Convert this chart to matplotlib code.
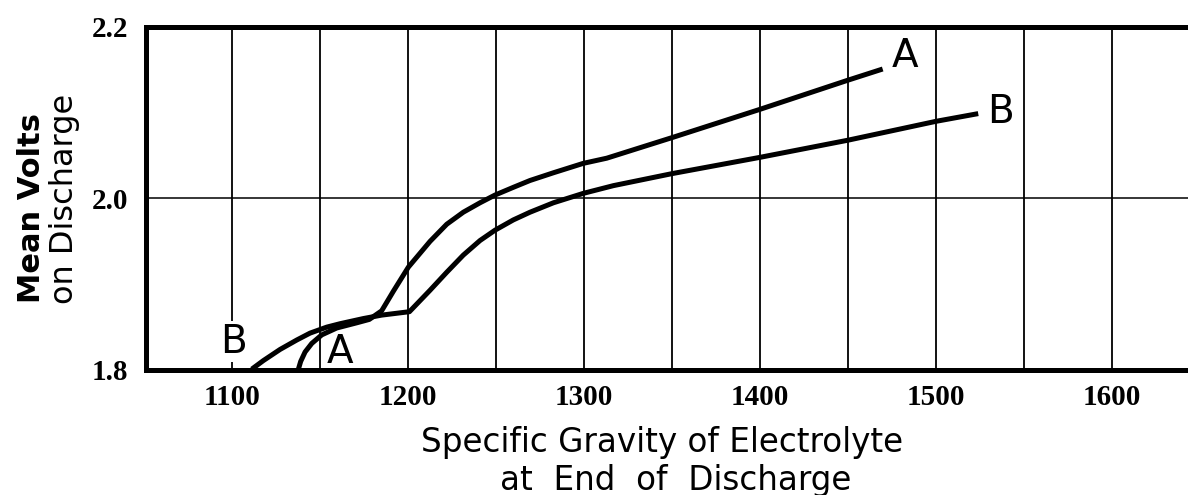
import matplotlib
matplotlib.use("Agg")
import matplotlib.pyplot as plt

# Specific gravity of electrolyte at end of discharge vs. mean volts on discharge
curve_a_sg = [1137.7, 1139.0, 1141.5, 1145.3, 1151.0, 1159.5, 1170.8, 1178.0, 1185.0,
              1191.7, 1200.2, 1212.5, 1222.0, 1231.4, 1240.9, 1249.4, 1259.8, 1269.3,
              1282.6, 1299.6, 1312.9, 1350.0, 1400.0, 1450.0, 1469.7]
curve_a_volts = [1.801, 1.810, 1.821, 1.831, 1.841, 1.849, 1.855, 1.859, 1.869,
                 1.892, 1.920, 1.950, 1.970, 1.984, 1.995, 2.004, 2.013, 2.021,
                 2.030, 2.041, 2.047, 2.071, 2.104, 2.138, 2.151]

curve_b_sg = [1111.2, 1117.8, 1127.3, 1136.8, 1144.3, 1153.8, 1161.4, 1174.6, 1185.0,
              1200.8, 1212.5, 1222.0, 1231.4, 1240.9, 1249.4, 1259.8, 1269.3, 1282.6,
              1299.6, 1316.7, 1350.0, 1400.0, 1450.0, 1500.0, 1524.0]
curve_b_volts = [1.801, 1.811, 1.824, 1.835, 1.843, 1.850, 1.854, 1.860, 1.864,
                 1.868, 1.893, 1.914, 1.934, 1.951, 1.963, 1.975, 1.984, 1.995,
                 2.006, 2.015, 2.029, 2.048, 2.068, 2.090, 2.099]

x_ticks = [1100, 1200, 1300, 1400, 1500, 1600]
x_grid = [1100, 1150, 1200, 1250, 1300, 1350, 1400, 1450, 1500, 1550, 1600]
y_ticks = [1.8, 2.0, 2.2]
y_tick_labels = ["1.8", "2.0", "2.2"]

W, H = 1188, 495
fig = plt.figure(figsize=(W / 100, H / 100), dpi=100)
ax = fig.add_axes([146 / W, (H - 370) / H, 1 - 146 / W, 343 / H])
ax.set_xlim(1051.1, 1643.2)
ax.set_ylim(1.8, 2.2)

# grid
for gx in x_grid:
    ax.axvline(gx, color="black", lw=1.3, zorder=1)
ax.axhline(2.0, color="black", lw=1.1, zorder=1)

# curves
line_kw = dict(color="black", lw=3.6, solid_capstyle="butt",
               solid_joinstyle="round", zorder=3)
ax.plot(curve_a_sg, curve_a_volts, **line_kw)
ax.plot(curve_b_sg, curve_b_volts, **line_kw)

# curve labels
lab_kw = dict(fontsize=28, family="DejaVu Sans", ha="center", va="center", zorder=4)
ax.text(1482.4, 2.166, "A", **lab_kw)
ax.text(1536.4, 2.101, "B", **lab_kw)
ax.text(1101.0, 1.833, "B", bbox=dict(facecolor="white", edgecolor="none", pad=1), **lab_kw)
ax.text(1161.4, 1.821, "A", **lab_kw)

# frame
for side in ("top", "bottom", "left"):
    ax.spines[side].set_linewidth(3.6)
    ax.spines[side].set_color("black")
ax.spines["right"].set_visible(False)

ax.set_xticks(x_ticks)
ax.set_xticklabels([str(v) for v in x_ticks], family="Liberation Serif",
                   fontweight="bold", fontsize=21)
ax.set_yticks(y_ticks)
ax.set_yticklabels(y_tick_labels, family="Liberation Serif",
                   fontweight="bold", fontsize=21)
ax.tick_params(axis="x", length=0, pad=10)
ax.tick_params(axis="y", length=0, pad=13)

# axis titles
fig.text(662 / W, 1 - 452 / H, "Specific Gravity of Electrolyte", fontsize=23.5,
         family="DejaVu Sans", ha="center", va="baseline")
fig.text(676 / W, 1 - 490 / H, "at  End  of  Discharge", fontsize=23.5,
         family="DejaVu Sans", ha="center", va="baseline")
fig.text(40 / W, 1 - 208 / H, "Mean Volts", fontsize=22, fontweight="bold",
         family="DejaVu Sans", rotation=90, rotation_mode="anchor",
         ha="center", va="baseline")
fig.text(73 / W, 1 - 199 / H, "on Discharge", fontsize=23,
         family="DejaVu Sans", rotation=90, rotation_mode="anchor",
         ha="center", va="baseline")

fig.savefig("out.png", dpi=100)
